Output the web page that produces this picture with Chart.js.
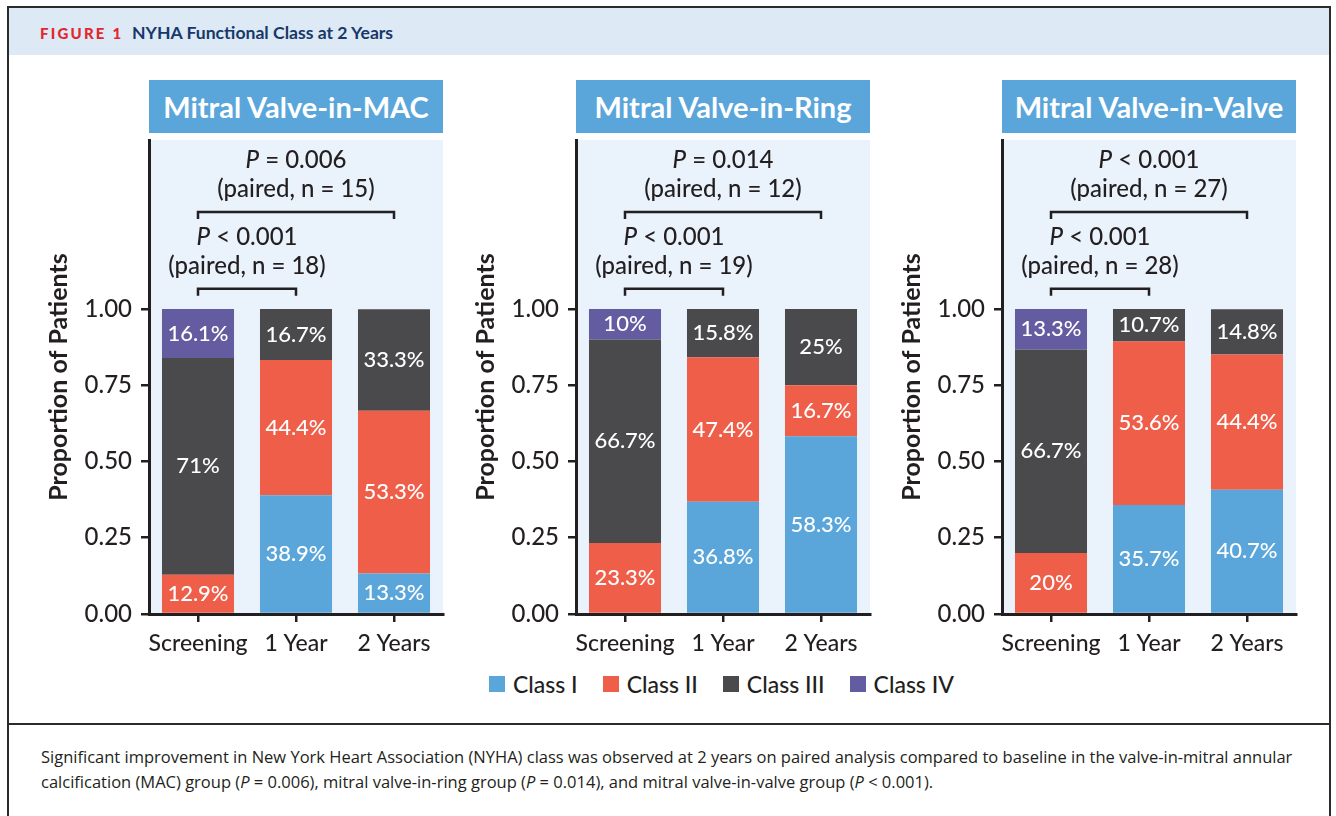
<!DOCTYPE html>
<html>
<head>
<meta charset="utf-8">
<title>NYHA Functional Class at 2 Years</title>
<script src="https://cdn.jsdelivr.net/npm/chart.js@4.4.1/dist/chart.umd.min.js"></script>
<style>
  html, body { margin: 0; padding: 0; }
  body { width: 1336px; height: 816px; background: #fff; position: relative; overflow: hidden; font-family: Lato, sans-serif; color: #231f20; }
  .frame { position: absolute; left: 7px; top: 6px; width: 1324px; height: 840px; border: 2px solid #2b2b2b; box-sizing: border-box; }
  .header { position: absolute; left: 9px; top: 8px; width: 1320px; height: 47px; background: #dde9f5; }
  .fig-num { position: absolute; left: 40px; top: 24px; font: 900 15px Lato, sans-serif; letter-spacing: 2.2px; color: #e2262f; white-space: nowrap; }
  .fig-title { position: absolute; left: 132px; top: 22px; font: 700 17.6px Lato, sans-serif; color: #17386a; white-space: nowrap; }
  .rule { position: absolute; left: 8px; top: 723px; width: 1322px; height: 2px; background: #2b2b2b; }
  .panel-title { position: absolute; top: 80px; height: 53px; width: 294px; background: #5aa6da; color: #fff;
    font: 700 29px Lato, sans-serif; display: flex; align-items: center; justify-content: center; }
  canvas.panel { position: absolute; top: 130px; }
  .legend { position: absolute; left: 489px; top: 670px; display: flex; align-items: center; }
  .legend .item { display: flex; align-items: center; margin-right: 25px; font: 500 23px Lato, sans-serif; color: #231f20; }
  .legend .swatch { width: 16px; height: 16px; margin-right: 8px; }
  .caption { position: absolute; left: 41px; top: 744px; font: 400 16.5px "Open Sans", sans-serif; line-height: 25px; color: #231f20; white-space: nowrap; }
</style>
</head>
<body>
<div class="frame"></div>
<div class="header"></div>
<div class="fig-num">FIGURE 1</div>
<div class="fig-title">NYHA Functional Class at 2 Years</div>
<div id="titles"></div>
<canvas class="panel" id="chartMac" width="414" height="534" style="left:34px"></canvas>
<canvas class="panel" id="chartRing" width="414" height="534" style="left:461px"></canvas>
<canvas class="panel" id="chartValve" width="414" height="534" style="left:887px"></canvas>
<div class="legend" id="legend"></div>
<div class="rule"></div>
<div class="caption">Significant improvement in New York Heart Association (NYHA) class was observed at 2 years on paired analysis compared to baseline in the valve-in-mitral annular<br>calcification (MAC) group (<i>P</i> = 0.006), mitral valve-in-ring group (<i>P</i> = 0.014), and mitral valve-in-valve group (<i>P</i> &lt; 0.001).</div>

<script>
// ---- data ----
const categories = ['Screening', '1 Year', '2 Years'];
const classNames = ['Class I', 'Class II', 'Class III', 'Class IV'];
const yTicks = [0, 0.25, 0.5, 0.75, 1];
const panelTitles = ['Mitral Valve-in-MAC', 'Mitral Valve-in-Ring', 'Mitral Valve-in-Valve'];

// Percent of patients in each NYHA class (Screening, 1 Year, 2 Years)
const macClassI   = [0, 38.9, 13.3];
const macClassII  = [12.9, 44.4, 53.3];
const macClassIII = [71, 16.7, 33.3];
const macClassIV  = [16.1, 0, 0];

const ringClassI   = [0, 36.8, 58.3];
const ringClassII  = [23.3, 47.4, 16.7];
const ringClassIII = [66.7, 15.8, 25];
const ringClassIV  = [10, 0, 0];

const valveClassI   = [0, 35.7, 40.7];
const valveClassII  = [20, 53.6, 44.4];
const valveClassIII = [66.7, 10.7, 14.8];
const valveClassIV  = [13.3, 0, 0];

// Paired comparisons per panel (MAC, Ring, Valve)
const pScreenVs2Yr = ['= 0.006', '= 0.014', '< 0.001'];
const nScreenVs2Yr = [15, 12, 27];
const pScreenVs1Yr = ['< 0.001', '< 0.001', '< 0.001'];
const nScreenVs1Yr = [18, 19, 28];

// ---- styling ----
const classColors = ['#5aa6da', '#ef5e48', '#4a4a4c', '#645ca0'];
const ink = '#231f20';
const plotBg = '#eaf2fb';
const FONT = 'Lato, sans-serif';
const W = 500;

// panel titles
const titleLefts = [149, 576, 1002];
const titlesEl = document.getElementById('titles');
panelTitles.forEach((t, i) => {
  const d = document.createElement('div');
  d.className = 'panel-title';
  d.style.left = titleLefts[i] + 'px';
  d.textContent = t;
  titlesEl.appendChild(d);
});

// legend
const legendEl = document.getElementById('legend');
classNames.forEach((name, i) => {
  const item = document.createElement('div');
  item.className = 'item';
  const sw = document.createElement('span');
  sw.className = 'swatch';
  sw.style.background = classColors[i];
  item.appendChild(sw);
  item.appendChild(document.createTextNode(name));
  legendEl.appendChild(item);
});

// shaded plot background
const plotBackground = {
  id: 'plotBackground',
  beforeDraw(chart) {
    const { ctx, chartArea: a } = chart;
    ctx.save();
    ctx.fillStyle = plotBg;
    ctx.fillRect(a.left, a.top, a.right - a.left, a.bottom - a.top);
    ctx.restore();
  }
};

// percentage text centred in each stacked segment
const segmentLabels = {
  id: 'segmentLabels',
  afterDatasetsDraw(chart) {
    const { ctx } = chart;
    ctx.save();
    ctx.font = `${W} 22px ${FONT}`;
    ctx.fillStyle = '#ffffff';
    ctx.textAlign = 'center';
    ctx.textBaseline = 'middle';
    chart.data.datasets.forEach((ds, di) => {
      const meta = chart.getDatasetMeta(di);
      meta.data.forEach((bar, i) => {
        const pct = ds.percent[i];
        if (!pct) return;
        ctx.fillText(pct + '%', bar.x, (bar.y + bar.base) / 2);
      });
    });
    ctx.restore();
  }
};

// significance brackets with "P ..." and "(paired, n = ...)" above the bars
function drawStat(ctx, cx, cy, pText) {
  ctx.font = `italic ${W} 24px ${FONT}`;
  const wP = ctx.measureText('P').width;
  ctx.font = `${W} 24px ${FONT}`;
  const rest = ' ' + pText;
  const wR = ctx.measureText(rest).width;
  const x0 = cx - (wP + wR) / 2;
  ctx.textAlign = 'left';
  ctx.font = `italic ${W} 24px ${FONT}`;
  ctx.fillText('P', x0, cy);
  ctx.font = `${W} 24px ${FONT}`;
  ctx.fillText(rest, x0 + wP, cy);
}

const brackets = {
  id: 'brackets',
  afterDraw(chart, args, opts) {
    const { ctx } = chart;
    const xs = chart.scales.x, ys = chart.scales.y;
    ctx.save();
    ctx.strokeStyle = ink;
    ctx.fillStyle = ink;
    ctx.lineWidth = 2.5;
    ctx.textBaseline = 'middle';
    opts.items.forEach(b => {
      const x1 = xs.getPixelForValue(b.from);
      const x2 = xs.getPixelForValue(b.to);
      const y = ys.getPixelForValue(b.level);
      ctx.beginPath();
      ctx.moveTo(x1, y + 7);
      ctx.lineTo(x1, y);
      ctx.lineTo(x2, y);
      ctx.lineTo(x2, y + 7);
      ctx.stroke();
      const cx = (x1 + x2) / 2;
      drawStat(ctx, cx, y - 52, b.p);
      ctx.textAlign = 'center';
      ctx.font = `${W} 24px ${FONT}`;
      ctx.fillText(`(paired, n = ${b.n})`, cx, y - 23);
    });
    ctx.restore();
  }
};

function makePanel(id, series, idx) {
  const datasets = series.map((vals, k) => ({
    label: classNames[k],
    percent: vals,
    data: vals.map(v => v / 100),
    backgroundColor: classColors[k],
    borderWidth: 0,
    categoryPercentage: 1,
    barPercentage: 0.735
  }));
  return new Chart(document.getElementById(id), {
    type: 'bar',
    data: { labels: categories, datasets },
    plugins: [plotBackground, segmentLabels, brackets],
    options: {
      responsive: false,
      animation: false,
      layout: { padding: { top: 10, right: 5, left: 0, bottom: 0 } },
      plugins: {
        legend: { display: false },
        tooltip: { enabled: false },
        brackets: {
          items: [
            { from: 0, to: 2, level: 1.318, p: pScreenVs2Yr[idx], n: nScreenVs2Yr[idx] },
            { from: 0, to: 1, level: 1.066, p: pScreenVs1Yr[idx], n: nScreenVs1Yr[idx] }
          ]
        }
      },
      scales: {
        x: {
          stacked: true,
          afterFit: s => { s.height = 50; s.paddingLeft = 0; s.paddingRight = 0; },
          grid: { drawOnChartArea: false, offset: false, tickLength: 8, lineWidth: 2.5, color: ink },
          border: { display: true, width: 3, color: ink },
          ticks: { color: ink, padding: 8, maxRotation: 0, minRotation: 0, autoSkip: false,
                   font: { family: FONT, size: 23, weight: W } }
        },
        y: {
          stacked: true,
          min: 0,
          max: 1.554,
          afterBuildTicks: s => { s.ticks = yTicks.map(v => ({ value: v })); },
          afterFit: s => { s.width = 115; s.paddingTop = 0; s.paddingBottom = 0; },
          grid: { drawOnChartArea: false, tickLength: 8, lineWidth: 2.5, color: ink },
          border: { display: true, width: 3, color: ink },
          ticks: { color: ink, padding: 9, font: { family: FONT, size: 24, weight: W },
                   callback: v => Number(v).toFixed(2) },
          title: {
            display: true,
            text: 'Proportion of Patients',
            color: ink,
            font: { family: FONT, size: 25, weight: 'bold' },
            padding: { top: 10, bottom: 0 }
          }
        }
      }
    }
  });
}

makePanel('chartMac', [macClassI, macClassII, macClassIII, macClassIV], 0);
makePanel('chartRing', [ringClassI, ringClassII, ringClassIII, ringClassIV], 1);
makePanel('chartValve', [valveClassI, valveClassII, valveClassIII, valveClassIV], 2);
</script>
</body>
</html>
